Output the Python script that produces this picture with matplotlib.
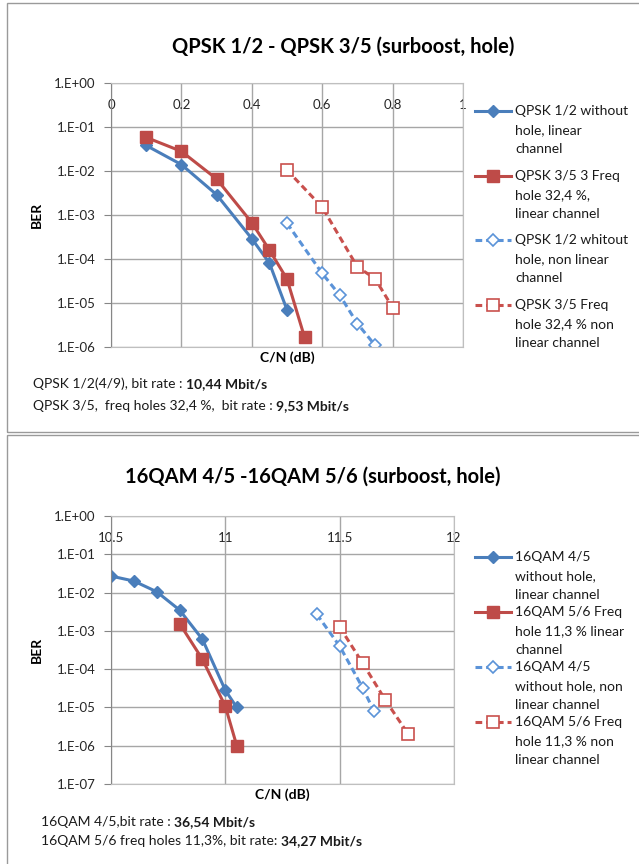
import numpy as np
import matplotlib
matplotlib.use('Agg')
from matplotlib import pyplot as plt
from matplotlib.patches import Rectangle
from matplotlib.lines import Line2D

plt.rcParams['font.family'] = ['Lato', 'DejaVu Sans']

# top chart: QPSK
q_x1 = [0.1, 0.2, 0.3, 0.4, 0.45, 0.5]
q_y1 = [3.8e-2, 1.4e-2, 2.9e-3, 2.9e-4, 8.1e-5, 7.0e-6]
q_x2 = [0.1, 0.2, 0.3, 0.4, 0.45, 0.5, 0.55]
q_y2 = [5.8e-2, 2.8e-2, 6.6e-3, 6.7e-4, 1.6e-4, 3.5e-5, 1.65e-6]
q_x3 = [0.5, 0.6, 0.65, 0.7, 0.75]
q_y3 = [6.5e-4, 4.7e-5, 1.5e-5, 3.4e-6, 1.1e-6]
q_x4 = [0.5, 0.6, 0.7, 0.75, 0.8]
q_y4 = [1.05e-2, 1.5e-3, 6.6e-5, 3.6e-5, 7.9e-6]
q_labels = ['QPSK 1/2 without\nhole, linear\nchannel',
            'QPSK 3/5 3 Freq\nhole 32,4 %,\nlinear channel',
            'QPSK 1/2 whitout\nhole, non linear\nchannel',
            'QPSK 3/5 Freq\nhole 32,4 % non\nlinear channel']
q_xticks = [0, 0.2, 0.4, 0.6, 0.8, 1]
q_xticklabels = ['0', '0.2', '0.4', '0.6', '0.8', '1']

# bottom chart: 16QAM
m_x1 = [10.5, 10.6, 10.7, 10.8, 10.9, 11.0, 11.05]
m_y1 = [2.7e-2, 2.0e-2, 1.05e-2, 3.5e-3, 6.0e-4, 2.8e-5, 1.0e-5]
m_x2 = [10.8, 10.9, 11.0, 11.05]
m_y2 = [1.55e-3, 1.8e-4, 1.07e-5, 1.0e-6]
m_x3 = [11.4, 11.5, 11.6, 11.65]
m_y3 = [2.7e-3, 4.0e-4, 3.3e-5, 8e-6]
m_x4 = [11.5, 11.6, 11.7, 11.8]
m_y4 = [1.26e-3, 1.45e-4, 1.55e-5, 2.0e-6]
m_labels = ['16QAM 4/5\nwithout hole,\nlinear channel',
            '16QAM 5/6 Freq\nhole 11,3 % linear\nchannel',
            '16QAM 4/5\nwithout hole, non\nlinear channel',
            '16QAM 5/6 Freq\nhole 11,3 % non\nlinear channel']
m_xticks = [10.5, 11, 11.5, 12]
m_xticklabels = ['10.5', '11', '11.5', '12']

W, H = 639, 864
fig = plt.figure(figsize=(W/100, H/100), dpi=100)

def px(x0, y0, x1, y1):
    return [x0/W, 1-y1/H, (x1-x0)/W, (y1-y0)/H]

blue = '#4A7EBB'
red = '#BE4B48'
lblue = '#5B93D8'
lred = '#C9504D'
grid = '#A6A6A6'

fig.add_artist(Rectangle((7/W, 1-432/H), 1, 429/H, transform=fig.transFigure,
                         fill=False, ec='#9A9A9A', lw=1))
fig.add_artist(Rectangle((7/W, 1-866/H), 1, 431/H, transform=fig.transFigure,
                         fill=False, ec='#9A9A9A', lw=1))

def draw(box, data, labels, xlim, ylim, xticks, xticklabels, title, title_xy, leg_y, line_h):
    ax = fig.add_axes(px(*box))
    styles = [dict(ls='-', color=blue, lw=2.2, marker='D', ms=6.5, mfc=blue, mec=blue),
              dict(ls='-', color=red, lw=2.2, marker='s', ms=9, mfc=red, mec=red),
              dict(ls='--', color=lblue, lw=2.2, marker='D', ms=6.5, mfc='white', mec=lblue,
                   mew=1.2, dashes=(2.2, 1.3)),
              dict(ls='--', color=lred, lw=2.2, marker='s', ms=9, mfc='white', mec=lred,
                   mew=1.2, dashes=(2.2, 1.3))]
    for (xs, ys), st in zip(data, styles):
        ax.plot(xs, ys, **st)
    ax.set_yscale('log')
    ax.set_ylim(*ylim)
    ax.set_xlim(*xlim)
    ax.set_xticks(xticks)
    ax.set_xticklabels(xticklabels)
    ax.minorticks_off()
    dec = np.arange(int(np.log10(ylim[0])), 1)
    ax.set_yticks(10.0**dec)
    ax.set_yticklabels(['1.E+00' if d == 0 else '1.E-%02d' % (-d) for d in dec])
    ax.grid(True, color=grid, lw=1)
    ax.set_axisbelow(True)
    for s in ax.spines.values():
        s.set_color('#BFBFBF')
    ax.spines['left'].set_color('#868686')
    ax.tick_params(axis='x', top=True, bottom=False, labeltop=True, labelbottom=False,
                   length=0, pad=-20, labelsize=9.5, colors='#262626')
    ax.tick_params(axis='y', length=5, color='#868686', labelsize=9.5, colors='#262626', pad=6)
    ax.set_ylabel('BER', fontsize=10, fontweight='bold', labelpad=8)
    ax.set_xlabel('C/N (dB)', fontsize=10, fontweight='bold', labelpad=3)
    fig.text(title_xy[0]/W, 1-title_xy[1]/H, title, ha='center', va='center',
             fontsize=14.5, fontweight='bold')

    # legend, handle aligned to the first line of each entry as in Excel
    for lab, st, y0 in zip(labels, styles, leg_y):
        h = Line2D([475/W, 511/W], [1-y0/H, 1-y0/H], transform=fig.transFigure,
                   markevery=[], **st)
        fig.add_artist(h)
        fig.add_artist(Line2D([493/W], [1-y0/H], transform=fig.transFigure, ls='none',
                              marker=st['marker'], ms=st['ms'], mfc=st['mfc'], mec=st['mec'],
                              mew=st.get('mew', 1)))
        for k, line in enumerate(lab.split('\n')):
            fig.text(515/W, 1-(y0 + k*line_h)/H, line, ha='left', va='center',
                     fontsize=10, color='#1a1a1a')
    return ax

draw((111, 83, 463, 347), [(q_x1, q_y1), (q_x2, q_y2), (q_x3, q_y3), (q_x4, q_y4)], q_labels,
     (0, 1), (1e-6, 1), q_xticks, q_xticklabels, 'QPSK 1/2 - QPSK 3/5 (surboost, hole)', (343, 47),
     [111, 176, 240, 305], 19)
draw((111, 516, 454, 784), [(m_x1, m_y1), (m_x2, m_y2), (m_x3, m_y3), (m_x4, m_y4)], m_labels,
     (10.5, 12), (1e-7, 1), m_xticks, m_xticklabels, '16QAM 4/5 -16QAM 5/6 (surboost, hole)',
     (313, 477), [557, 612, 667, 722], 18.8)

notes = [(33, 384, 'QPSK 1/2(4/9), bit rate : ', '10,44 Mbit/s'),
         (33, 406, 'QPSK 3/5,  freq holes 32,4 %,  bit rate : ', '9,53 Mbit/s'),
         (41, 822, '16QAM 4/5,bit rate : ', '36,54 Mbit/s'),
         (41, 841, '16QAM 5/6 freq holes 11,3%, bit rate: ', '34,27 Mbit/s')]
fig.canvas.draw()
r = fig.canvas.get_renderer()
for x, y, normal, bold in notes:
    t = fig.text(x/W, 1-y/H, normal, ha='left', va='center', fontsize=10, color='#1a1a1a')
    bb = t.get_window_extent(renderer=r)
    fig.text(bb.x1/W, 1-y/H, bold, ha='left', va='center', fontsize=10, fontweight='bold', color='#1a1a1a')

fig.savefig('out.png', dpi=100)
